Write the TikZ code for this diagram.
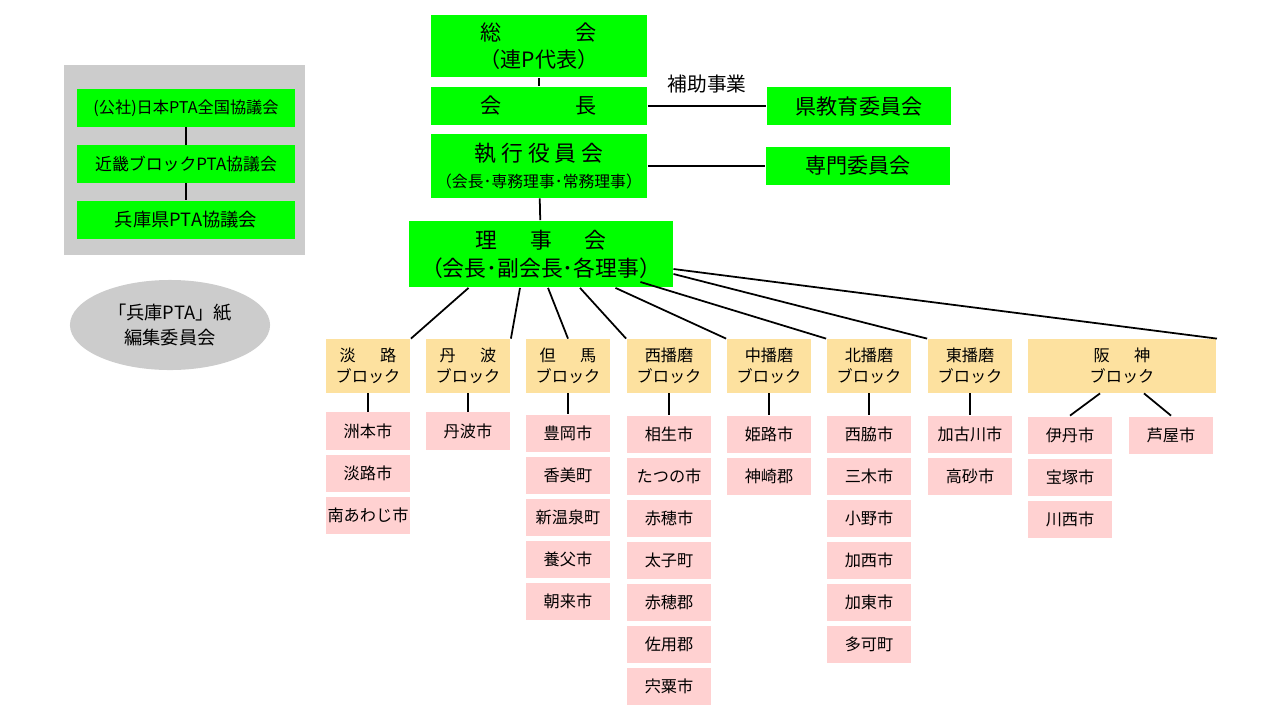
\documentclass[tikz,border=0pt]{standalone}
\usepackage{fontspec}
\setmainfont{Noto Sans CJK JP}
\usetikzlibrary{shapes.geometric}
\begin{document}
\begin{tikzpicture}[x=0.01cm,y=-0.01cm,thick,line width=0.5pt,
  main box/.style={fill=green,inner sep=0pt,align=center,font=\fontsize{6}{7.5}\selectfont},
  block box/.style={fill=yellow!40!orange!35,inner sep=0pt,minimum width=0.84cm,minimum height=0.53cm,align=center,font=\fontsize{4.6}{6}\selectfont},
  city box/.style={fill=red!18,inner sep=0pt,minimum width=0.84cm,minimum height=0.37cm,font=\fontsize{4.6}{6}\selectfont}]

  \useasboundingbox (0,0) rectangle (1280,715);

  % left side
  \fill[gray!40] (64,65) rectangle (305,255);
  \node[main box,minimum width=2.17cm,minimum height=0.37cm,font=\fontsize{4.6}{6}\selectfont] (nihon) at (186,108) {(公社)日本PTA全国協議会};
  \node[main box,minimum width=2.17cm,minimum height=0.37cm,font=\fontsize{4.8}{6}\selectfont] (kinki) at (186,164) {近畿ブロックPTA協議会};
  \node[main box,minimum width=2.17cm,minimum height=0.38cm,font=\fontsize{5.2}{6}\selectfont] (hyogo) at (186,220) {兵庫県PTA協議会};
  \draw (nihon) -- (kinki) (kinki) -- (hyogo);
  \node[ellipse,fill=gray!40,minimum width=2cm,minimum height=0.9cm,align=center,inner sep=0pt,font=\fontsize{5.2}{7}\selectfont] (kaiho) at (170,325) {「兵庫PTA」紙\\編集委員会};

  % top
  \node[main box,minimum width=2.16cm,minimum height=0.62cm] (sokai) at (539,46) {総\hspace{3.5em}会\\（連P代表）};
  \node[main box,minimum width=2.16cm,minimum height=0.38cm] (kaicho) at (539,106) {会\hspace{3.5em}長};
  \node[main box,minimum width=1.84cm,minimum height=0.38cm] (kenkyo) at (859,106) {県教育委員会};
  \node[main box,minimum width=2.16cm,minimum height=0.63cm,font=\fontsize{6.2}{7.5}\selectfont] (shikko) at (539,166) {執 行 役 員 会\\{\fontsize{4.5}{6}\selectfont（会長･専務理事･常務理事）}};
  \node[main box,minimum width=1.84cm,minimum height=0.37cm] (senmon) at (858,166) {専門委員会};
  \node[main box,minimum width=2.63cm,minimum height=0.66cm,font=\fontsize{6.2}{8}\selectfont] (riji) at (541,254) {理\hspace{1.5em}事\hspace{1.5em}会\\（会長･副会長･各理事）};
  \draw (sokai) -- (kaicho);
  \draw (kaicho) -- node[above,font=\fontsize{5.6}{7}\selectfont] {補助事業} (kenkyo);
  \draw (shikko) -- (senmon);
  \draw (shikko) -- (riji);

  % blocks
  \foreach \n/\x/\t in {awaji/368/淡\hspace{1.5em}路, tamba/468/丹\hspace{1.5em}波, tajima/568/但\hspace{1.5em}馬,
      nishi/669/西播磨, naka/769/中播磨, kita/869/北播磨, higashi/970/東播磨}
    \node[block box] (\n) at (\x,366) {\t\\ブロック};
  \node[block box,minimum width=1.88cm] (hanshin) at (1122,366) {阪\hspace{1.5em}神\\ブロック};

  \draw (riji.south west) ++(60,0) -- (awaji.north east);
  \draw (riji.south) ++(-21,0) -- (tamba.north east);
  \draw (riji.south) ++(7,0) -- (tajima.north);
  \draw (riji.south) ++(39,0) -- (nishi.north west);
  \draw (riji.south east) ++(-58,0) -- (naka.north west);
  \draw (riji.east) ++(-33,0) ++(0,28) -- (kita.north west);
  \draw (riji.east) ++(0,20) -- (higashi.north west);
  \draw (riji.east) ++(0,15) -- (hanshin.north east);

  % cities
  \foreach \col/\x/\y/\list in {awaji/368/431/{洲本市,淡路市,南あわじ市}, tamba/468/431/{丹波市},
      tajima/568/433/{豊岡市,香美町,新温泉町,養父市,朝来市},
      nishi/669/434/{相生市,たつの市,赤穂市,太子町,赤穂郡,佐用郡,宍粟市},
      naka/769/434/{姫路市,神崎郡}, kita/869/434/{西脇市,三木市,小野市,加西市,加東市,多可町},
      higashi/970/434/{加古川市,高砂市}, hanshin/1070/435/{伊丹市,宝塚市,川西市}}
  {
    \foreach \c [count=\i] in \list
      \node[city box] (\col-\i) at (\x,{\y+(\i-1)*42}) {\c};
  }
  \node[city box] (ashiya) at (1171,435) {芦屋市};

  \foreach \col in {awaji,tamba,tajima,nishi,naka,kita,higashi}
    \draw (\col) -- (\col-1);
  \draw (hanshin.south) ++(-22,0) -- (hanshin-1.north);
  \draw (hanshin.south) ++(22,0) -- (ashiya.north);
\end{tikzpicture}
\end{document}
